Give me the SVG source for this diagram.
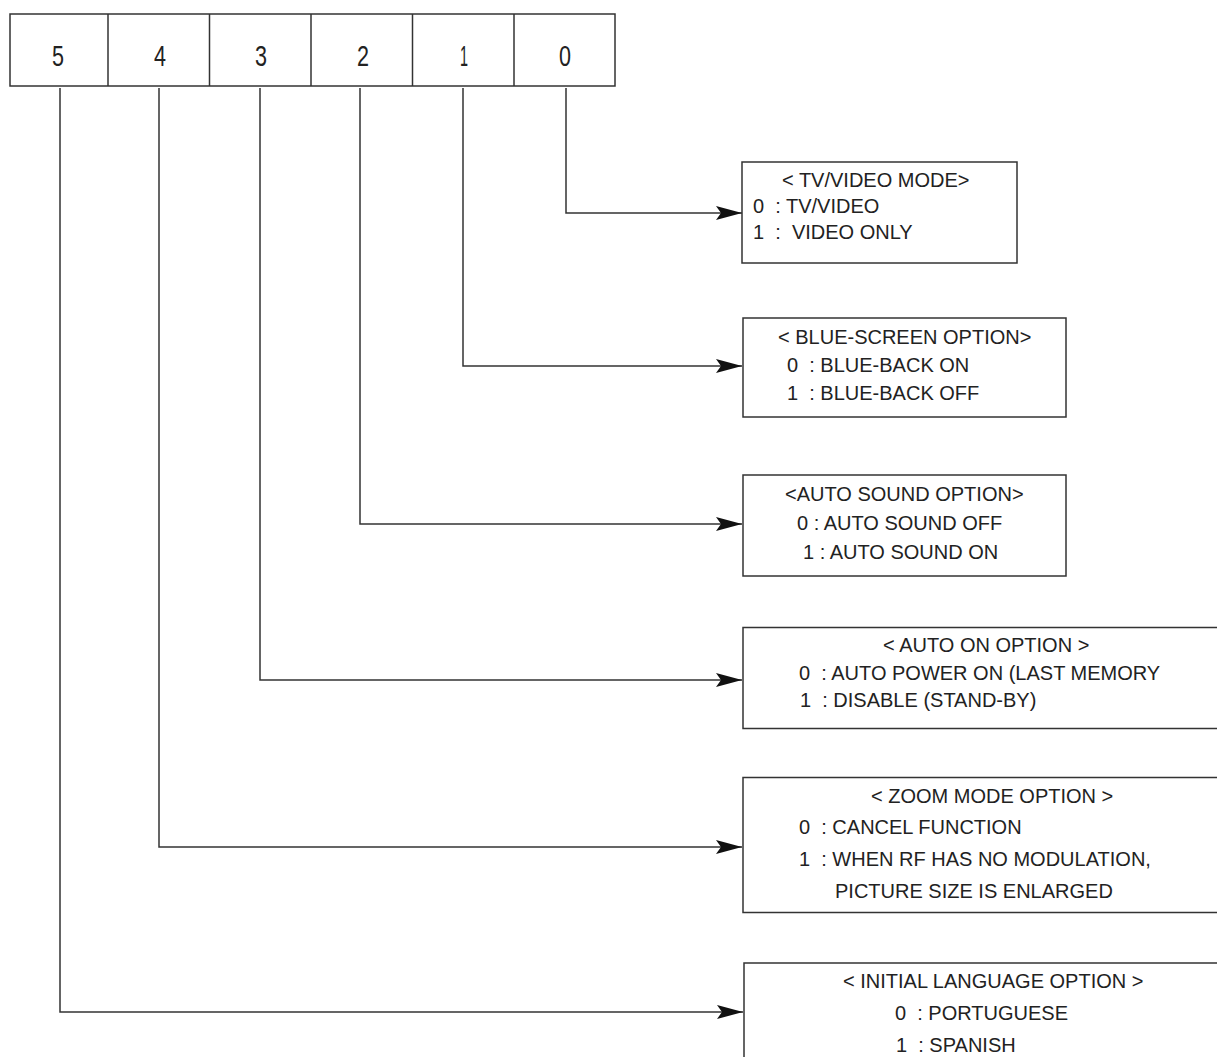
<svg xmlns="http://www.w3.org/2000/svg" width="1217" height="1057" viewBox="0 0 1217 1057">
<style>
.box{fill:#fff;stroke:#333;stroke-width:1.5}
.cell{fill:#fff;stroke:#333;stroke-width:1.5}
.con{fill:none;stroke:#333;stroke-width:1.5}
.t{font-family:"Liberation Sans",Arial,sans-serif;font-size:20px;fill:#222;white-space:pre}
.d{font-family:"Liberation Sans",Arial,sans-serif;font-size:29px;fill:#222;text-anchor:middle}
</style>
<defs>
<marker id="arr" markerUnits="userSpaceOnUse" markerWidth="28" markerHeight="16" refX="26" refY="7" orient="auto">
<path d="M0,0 L26,7 L0,14 L5,7 Z" fill="#111"/>
</marker>
</defs>
<g id="register">
<rect class="cell" x="10" y="14" width="605" height="72"/>
<line class="cell" x1="108" y1="14" x2="108" y2="86"/>
<line class="cell" x1="209.5" y1="14" x2="209.5" y2="86"/>
<line class="cell" x1="311" y1="14" x2="311" y2="86"/>
<line class="cell" x1="412.5" y1="14" x2="412.5" y2="86"/>
<line class="cell" x1="514" y1="14" x2="514" y2="86"/>
<text class="d" x="58" y="66" textLength="12" lengthAdjust="spacingAndGlyphs">5</text>
<text class="d" x="160" y="66" textLength="12" lengthAdjust="spacingAndGlyphs">4</text>
<text class="d" x="261" y="66" textLength="12" lengthAdjust="spacingAndGlyphs">3</text>
<text class="d" x="363" y="66" textLength="12" lengthAdjust="spacingAndGlyphs">2</text>
<text class="d" x="464" y="66" textLength="8" lengthAdjust="spacingAndGlyphs">1</text>
<text class="d" x="565" y="66" textLength="12" lengthAdjust="spacingAndGlyphs">0</text>
</g>
<g id="connectors">
<path class="con" d="M566 88 V213 H742" marker-end="url(#arr)"/>
<path class="con" d="M463 88 V366 H742" marker-end="url(#arr)"/>
<path class="con" d="M360 88 V524 H742" marker-end="url(#arr)"/>
<path class="con" d="M260 88 V680 H742" marker-end="url(#arr)"/>
<path class="con" d="M159 88 V847 H742" marker-end="url(#arr)"/>
<path class="con" d="M60 88 V1012 H743" marker-end="url(#arr)"/>
</g>
<g id="tv-video-mode">
<rect class="box" x="742" y="162" width="275" height="101"/>
<text class="t" x="782" y="187">&lt; TV/VIDEO MODE&gt;</text>
<text class="t" x="753" y="213">0  : TV/VIDEO</text>
<text class="t" x="753" y="239">1  :  VIDEO ONLY</text>
</g>
<g id="blue-screen-option">
<rect class="box" x="743" y="318" width="323" height="99"/>
<text class="t" x="778" y="344">&lt; BLUE-SCREEN OPTION&gt;</text>
<text class="t" x="787" y="372">0  : BLUE-BACK ON</text>
<text class="t" x="787" y="400">1  : BLUE-BACK OFF</text>
</g>
<g id="auto-sound-option">
<rect class="box" x="743" y="475" width="323" height="101"/>
<text class="t" x="785" y="501">&lt;AUTO SOUND OPTION&gt;</text>
<text class="t" x="797" y="530">0 : AUTO SOUND OFF</text>
<text class="t" x="803" y="559">1 : AUTO SOUND ON</text>
</g>
<g id="auto-on-option">
<rect class="box" x="743" y="627.5" width="490" height="101"/>
<text class="t" x="883" y="652">&lt; AUTO ON OPTION &gt;</text>
<text class="t" x="799" y="680">0  : AUTO POWER ON (LAST MEMORY</text>
<text class="t" x="800" y="707">1  : DISABLE (STAND-BY)</text>
</g>
<g id="zoom-mode-option">
<rect class="box" x="743" y="777.5" width="490" height="135"/>
<text class="t" x="871" y="803">&lt; ZOOM MODE OPTION &gt;</text>
<text class="t" x="799" y="834">0  : CANCEL FUNCTION</text>
<text class="t" x="799" y="866">1  : WHEN RF HAS NO MODULATION,</text>
<text class="t" x="835" y="898">PICTURE SIZE IS ENLARGED</text>
</g>
<g id="initial-language-option">
<rect class="box" x="744" y="963" width="490" height="110"/>
<text class="t" x="843" y="988">&lt; INITIAL LANGUAGE OPTION &gt;</text>
<text class="t" x="895" y="1020">0  : PORTUGUESE</text>
<text class="t" x="896" y="1052">1  : SPANISH</text>
</g>
</svg>
